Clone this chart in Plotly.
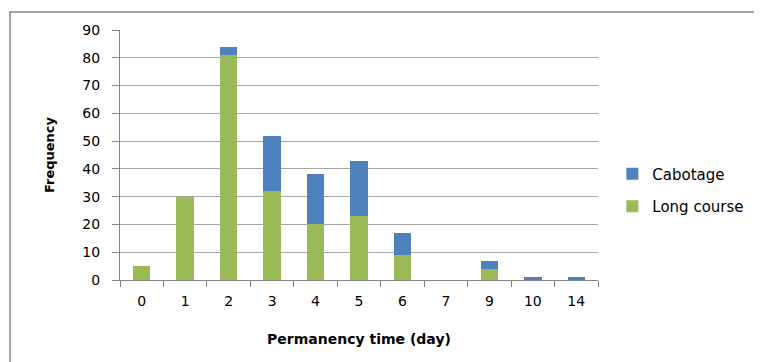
import plotly.graph_objects as go

categories = ["0", "1", "2", "3", "4", "5", "6", "7", "9", "10", "14"]
long_course = [5, 30, 81, 32, 20, 23, 9, 0, 4, 0, 0]
cabotage = [0, 0, 3, 20, 18, 20, 8, 0, 3, 1, 1]
y_ticks = [0, 10, 20, 30, 40, 50, 60, 70, 80, 90]

FONT = "DejaVu Sans"
fig = go.Figure()
fig.add_trace(go.Bar(x=categories, y=long_course, name="Long course", legendrank=2,
                     marker=dict(color="#9BBB59", line=dict(width=0)), legendgroup="lc"))
fig.add_trace(go.Bar(x=categories, y=cabotage, name="Cabotage", legendrank=1,
                     marker=dict(color="#4F81BD", line=dict(width=0)), legendgroup="cab"))

# the page body adds an 8px offset, so margins are shifted by -8
fig.update_layout(
    width=762, height=362,
    barmode="stack", bargap=0.6,
    plot_bgcolor="white", paper_bgcolor="white",
    margin=dict(l=112, r=172, t=22, b=90, autoexpand=False),
    font=dict(family=FONT, size=14, color="#000000"),
    showlegend=True,
    legend=dict(x=1.03, y=0.49, xanchor="left", yanchor="top",
                traceorder="grouped", tracegroupgap=10,
                font=dict(family=FONT, size=15, color="#000000"),
                itemwidth=30),
    xaxis=dict(type="category", showline=True, linecolor="#868686", linewidth=1,
               ticks="outside", ticklen=6, tickcolor="#868686", tickson="boundaries",
               showgrid=False, ticklabelstandoff=8, tickfont=dict(size=14),
               title=dict(text="<b>Permanency time (day)</b>", font=dict(family=FONT, size=14), standoff=26)),
    yaxis=dict(range=[0, 90], tickvals=y_ticks, showline=True, linecolor="#868686", linewidth=1,
               ticks="outside", ticklen=7, tickcolor="#868686", ticklabelstandoff=9,
               tickfont=dict(size=14),
               showgrid=True, gridcolor="#a6a6a6", gridwidth=1, zeroline=False,
               title=dict(text="<b>Frequency</b>", font=dict(family=FONT, size=13), standoff=24)),
    shapes=[dict(type="rect", xref="paper", yref="paper",
                 x0=-110/478, x1=2, y0=-2, y1=(280-12)/250,
                 line=dict(color="#868686", width=1.5), fillcolor="rgba(0,0,0,0)", layer="below")],
)

fig.write_html("out.html")
